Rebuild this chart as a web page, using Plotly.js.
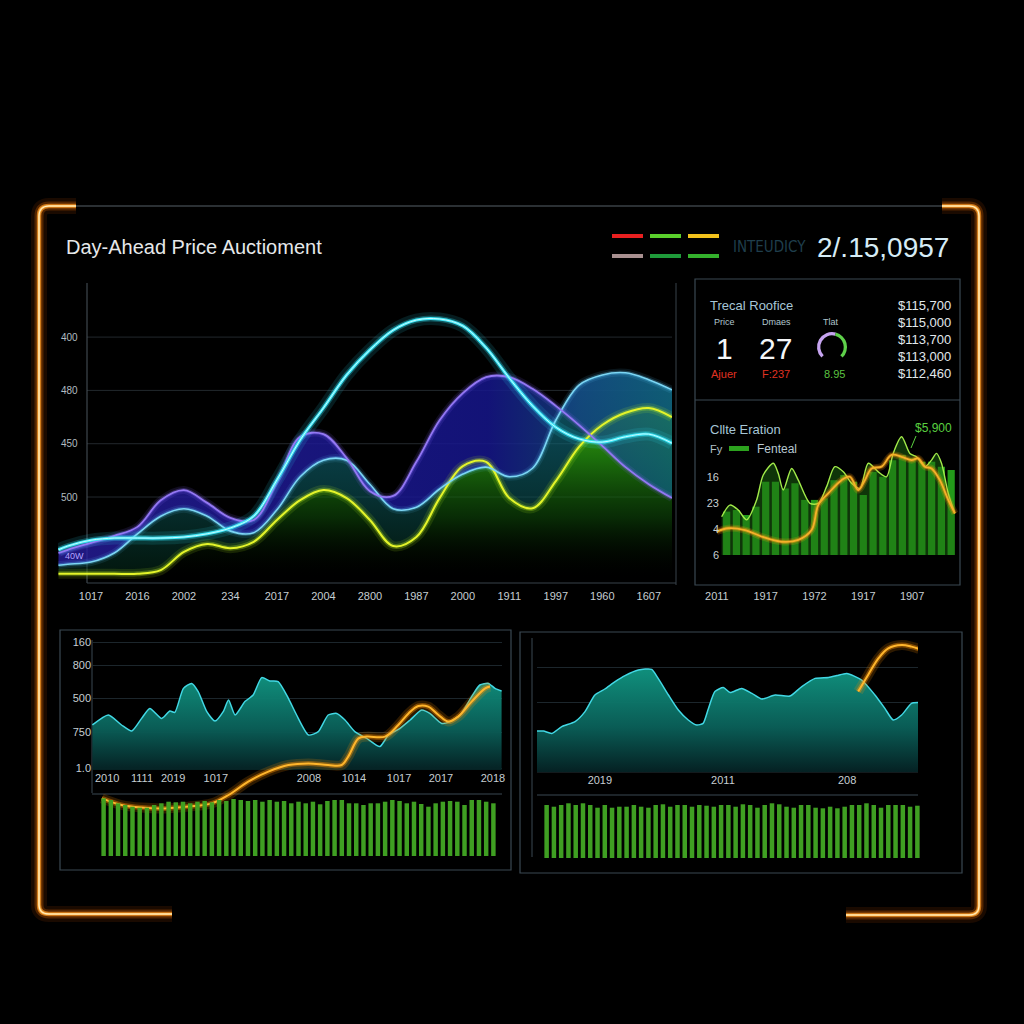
<!DOCTYPE html>
<html><head><meta charset="utf-8">
<script src="https://cdn.plot.ly/plotly-3.0.1.min.js"></script>
<style>html,body{margin:0;padding:0;background:#000;}#chart{width:1024px;height:1024px;}</style>
</head><body><div id="chart"></div>
<script>
// ================= DATA =================
// Main chart: "Day-Ahead Price Auctioment"
const mainX = [-0.7,-0.5,0,0.5,1,1.5,2,2.5,3,3.5,4,4.5,5,5.5,6,6.5,7,7.5,8,8.5,9,9.5,10,10.5,11,11.5,12,12.5];
const mainXTickVals = [0,1,2,3,4,5,6,7,8,9,10,11,12];
const mainXTickText = ["1017","2016","2002","234","2017","2004","2800","1987","2000","1911","1997","1960","1607"];
const mainYTickVals = [150,250,350,450];
const mainYTickText = ["500","450","480","400"];
const violetSeries    = [45,51,64,77,94,144,163,139,111,107,178,263,268,223,161,152,216,294,345,375,375,353,321,285,246,206,174,148];
const lightBlueSeries = [22,24,28,45,81,114,128,114,86,83,126,188,219,219,174,128,131,165,193,206,188,204,294,360,379,383,370,351];
const cyanSeries      = [51,58,69,73,73,73,75,81,92,114,182,257,317,379,426,463,482,484,471,430,373,321,281,259,253,263,268,251];
const yellowSeries    = [6,6,6,6,6,13,47,62,54,66,107,144,163,148,107,58,75,148,208,216,148,129,180,244,285,308,317,300];

// Header
const titleText = "Day-Ahead Price Auctioment";
const headerLabel = "INTEUDICY";
const headerValue = "2/.15,0957";

// KPI panel "Trecal Roofice"
const kpiTitle = "Trecal Roofice";
const kpiLabels = ["Price","Dmaes","Tlat"];
const kpiValues = ["1","27"];
const kpiDeltas = ["Ajuer","F:237","8.95"];
const priceLadder = ["$115,700","$115,000","$113,700","$113,000","$112,460"];
const gaugeShares = [90,150,120]; // gap, lavender, green

// Right-middle chart "Cllte Eration"
const rmTitle = "Cllte Eration";
const rmLegend = ["Fy","Fenteal"];
const rmCallout = "$5,900";
const rmBarX = [0,1,2,3,4,5,6,7,8,9,10,11,12,13,14,15,16,17,18,19,20,21,22,23];
const rmBars = [16.7,17.3,15.4,18.6,28.2,28.2,25.6,27.6,21.2,21.2,21.8,28.8,30.8,28.2,23.1,32.0,30.1,36.5,38.5,37.2,35.9,35.9,34.0,32.7];
const rmAreaX = [-0.51,0.34,1.19,2.05,3.07,3.75,4.78,5.29,5.80,6.66,7.34,8.53,9.39,10.24,11.09,11.95,12.80,13.65,14.51,15.53,16.38,17.06,17.92,18.77,19.45,20.31,20.99,21.50,22.01,22.70,23.38];
const rmAreaY = [14.7,19.2,17.3,13.5,21.2,30.8,35.3,31.4,25.0,33.3,28.8,19.9,19.9,26.3,34.0,32.0,27.6,25.6,35.3,32.0,30.1,39.1,45.5,39.1,37.8,34.0,36.5,39.1,35.3,23.7,16.0];
const rmTrendX = [-1.02,0.17,1.88,3.58,5.63,7.34,8.70,9.39,10.41,11.77,12.63,13.48,14.16,14.85,15.87,16.89,17.92,18.94,19.62,20.31,20.99,21.84,22.70,23.38];
const rmTrendY = [9.0,10.3,9.6,7.1,5.1,5.8,9.6,19.2,23.7,28.8,30.1,25.0,28.8,33.3,34.0,38.5,37.8,36.5,37.2,34.0,33.3,28.8,21.2,16.0];
const rmXTickVals = [-1,4,9,14,19];
const rmXTickText = ["2011","1917","1972","1917","1907"];
const rmYTickVals = [0,10,20,30];
const rmYTickText = ["6","4","23","16"];

// Bottom-left panel
const blAreaX = [0.1,4.0,7.2,9.7,12.1,14.1,17.0,19.0,20.2,22.3,24.3,25.9,28.0,30.0,32.0,33.3,34.9,37.3,39.3,41.4,43.4,45.4,47.9,49.9,52.8,55.2,57.6,59.7,61.7,64.1,67.0,70.2,72.3,75.1,77.6,80.4,82.4,85.3,87.3,89.8,92.6,94.6,96.7,98.3,99.9];
const blAreaY = [225,275,225,195,258,308,258,295,288,408,433,392,292,245,292,350,275,342,375,462,445,442,358,275,175,192,275,283,250,192,158,117,175,208,250,300,283,233,242,275,367,425,433,408,395];
const blTrendX = [2.4,7.2,12.1,17.8,23.5,29.2,33.3,38.1,43.0,47.9,52.8,57.6,60.9,62.5,65.0,67.0,71.5,74.7,77.2,79.6,82.0,84.5,86.9,89.3,92.6,95.9,97.1];
const blTrendY = [308,275,262,258,267,283,325,392,442,475,483,475,475,517,608,617,617,675,733,770,767,725,692,717,792,858,867];
const blBars = [57.7,56.0,52.7,51.0,49.3,48.3,48.3,51.0,52.7,54.3,53.7,54.3,52.7,54.3,55.0,53.7,56.0,55.0,57.0,56.0,55.0,56.0,54.3,56.0,54.3,55.0,52.7,54.3,52.7,54.3,51.7,55.0,56.0,56.0,52.7,52.7,51.0,52.7,52.7,54.3,56.0,55.0,52.7,54.3,52.0,49.3,52.7,54.3,55.0,54.3,51.0,56.0,56.0,54.3,52.7];
const blXTickVals = [3.7,12.2,19.8,30.2,52.9,63.9,74.9,85.1,97.8];
const blXTickText = ["2010","1111","2019","1017","2008","1014","1017","2017","2018"];
const blYTickVals = [10,190,360,525,640];
const blYTickText = ["1.0","750","500","800","160"];

// Bottom-right panel
const brAreaX = [0,1.7,3.9,6.5,10.0,12.6,15.2,17.8,20.5,23.1,26.6,30.1,31.8,34.5,37.1,39.7,41.9,43.6,45.0,46.7,48.9,50.7,53.7,56.4,59.0,62.5,66.4,69.5,73.0,76.5,78.7,81.3,85.2,88.7,91.3,93.5,95.7,98.3,100];
const brAreaY = [205,205,193,227,252,302,385,415,452,482,510,513,468,385,310,260,235,243,318,402,422,397,418,393,365,385,380,427,468,473,482,493,460,385,318,260,285,343,347];
const brTrendX = [84.3,86.9,89.6,92.2,95.7,98.3,100.3];
const brTrendY = [402,485,568,618,635,627,615];
const brBars = [53.0,51.3,53.0,54.7,53.0,54.7,53.0,50.3,53.0,50.3,51.3,51.3,53.0,51.3,50.3,53.0,53.7,51.3,53.0,53.0,51.3,53.0,52.3,51.3,53.0,53.0,51.3,53.7,53.0,50.3,53.0,54.7,53.7,51.3,50.3,53.0,53.0,50.3,49.7,51.3,49.7,51.3,53.0,53.0,54.7,53.0,50.3,53.0,53.0,53.0,51.3,52.3];
const brXTickVals = [16.5,48.8,81.4];
const brXTickText = ["2019","2011","208"];
const brGridVals = [350,525];

// ================= HELPERS =================
const W = 1024, H = 1024;
const FONT = "Liberation Sans, Arial, sans-serif";
const px = x => x / W;
const py = y => 1 - y / H;
const dom = (a, b) => [a / W, b / W];
const vdom = (top, bottom) => [1 - bottom / H, 1 - top / H];
const P = (x, y) => `${(x / W).toFixed(5)},${(1 - y / H).toFixed(5)}`;
const idx = arr => arr.map((_, i) => i);

function glow(x, y, color, xa, ya, widths, opac, shape) {
  return widths.map((w, i) => ({
    type: 'scatter', mode: 'lines', x, y, xaxis: xa, yaxis: ya,
    line: { color, width: w, shape: shape || 'spline', smoothing: 1 },
    opacity: opac[i], hoverinfo: 'skip', showlegend: false
  }));
}
function lineTrace(x, y, color, width, xa, ya, shape) {
  return { type: 'scatter', mode: 'lines', x, y, xaxis: xa, yaxis: ya,
    line: { color, width, shape: shape || 'spline', smoothing: 1 }, hoverinfo: 'skip', showlegend: false };
}
function seg(x0, y0, x1, y1, color, width) {
  return { type: 'line', xref: 'paper', yref: 'paper', x0: px(x0), y0: py(y0), x1: px(x1), y1: py(y1),
    line: { color, width }, layer: 'below' };
}
function box(x0, y0, x1, y1, color, width) {
  return { type: 'rect', xref: 'paper', yref: 'paper', x0: px(x0), y0: py(y0), x1: px(x1), y1: py(y1),
    line: { color, width }, fillcolor: 'rgba(0,0,0,0)', layer: 'below' };
}
function bar(x0, y0, x1, y1, color) {
  return { type: 'rect', xref: 'paper', yref: 'paper', x0: px(x0), y0: py(y0), x1: px(x1), y1: py(y1),
    line: { width: 0 }, fillcolor: color };
}
function txt(text, x, y, size, color, anchor, extra) {
  return Object.assign({ text, x: px(x), y: py(y), xref: 'paper', yref: 'paper', showarrow: false,
    xanchor: anchor || 'left', yanchor: 'middle', font: { family: FONT, size, color } }, extra || {});
}

// ================= TRACES =================
const traces = [];

// --- main chart fills
traces.push({ type: 'scatter', mode: 'lines', x: mainX, y: yellowSeries, xaxis: 'x', yaxis: 'y',
  line: { width: 0, shape: 'spline', smoothing: 1 }, fill: 'tozeroy',
  fillgradient: { type: 'vertical', start: 0, stop: 320,
    colorscale: [[0, 'rgba(0,10,0,0)'], [0.35, 'rgba(15,80,10,0.55)'], [0.7, 'rgba(35,140,15,0.8)'], [1, 'rgba(70,190,20,0.9)']] },
  hoverinfo: 'skip', showlegend: false });
traces.push({ type: 'scatter', mode: 'lines', x: mainX, y: lightBlueSeries, xaxis: 'x', yaxis: 'y',
  line: { width: 0, shape: 'spline', smoothing: 1 }, fill: 'tonexty',
  fillgradient: { type: 'vertical', start: 0, stop: 400,
    colorscale: [[0, 'rgba(5,50,30,0.45)'], [0.4, 'rgba(12,85,90,0.6)'], [1, 'rgba(20,120,150,0.75)']] },
  hoverinfo: 'skip', showlegend: false });
traces.push({ type: 'scatter', mode: 'lines', x: mainX, y: violetSeries, xaxis: 'x', yaxis: 'y',
  line: { width: 0, shape: 'spline', smoothing: 1 }, fill: 'tonexty',
  fillgradient: { type: 'horizontal', start: -0.7, stop: 12.5,
    colorscale: [[0, 'rgba(40,30,160,0.8)'], [0.7, 'rgba(22,22,140,0.85)'], [0.85, 'rgba(20,70,130,0.8)'], [1, 'rgba(15,95,120,0.8)']] },
  hoverinfo: 'skip', showlegend: false });

// --- main chart glows and lines
traces.push(...glow(mainX, yellowSeries, '#c8ff20', 'x', 'y', [10, 5], [0.12, 0.28]));
traces.push(...glow(mainX, lightBlueSeries, '#60d0ff', 'x', 'y', [8, 4], [0.1, 0.25]));
traces.push(...glow(mainX, violetSeries, '#8a6cff', 'x', 'y', [8, 4], [0.12, 0.28]));
traces.push(...glow(mainX, cyanSeries, '#30e8ff', 'x', 'y', [13, 6], [0.12, 0.28]));
traces.push(lineTrace(mainX, yellowSeries, '#e4f42a', 2, 'x', 'y'));
traces.push(lineTrace(mainX, lightBlueSeries, '#7cd6f4', 1.6, 'x', 'y'));
traces.push(lineTrace(mainX, violetSeries, '#9478f4', 1.8, 'x', 'y'));
traces.push(lineTrace(mainX, cyanSeries, '#3ee6f6', 3, 'x', 'y'));
traces.push(lineTrace(mainX, cyanSeries, '#c8fcff', 1, 'x', 'y'));

// --- right-middle chart
traces.push({ type: 'scatter', mode: 'lines', x: rmAreaX, y: rmAreaY, xaxis: 'x2', yaxis: 'y2',
  fill: 'tozeroy', fillcolor: 'rgba(30,105,18,0.5)', line: { color: '#a2ea4a', width: 1.4, shape: 'spline', smoothing: 0.8 },
  hoverinfo: 'skip', showlegend: false });
traces.push({ type: 'bar', x: rmBarX, y: rmBars, xaxis: 'x2', yaxis: 'y2', width: 0.74,
  marker: { color: '#26a81d', line: { width: 0 } }, opacity: 0.92, hoverinfo: 'skip', showlegend: false });
traces.push(...glow(rmTrendX, rmTrendY, '#ff9a10', 'x2', 'y2', [7, 4], [0.2, 0.4]));
traces.push(lineTrace(rmTrendX, rmTrendY, '#f7b02a', 1.8, 'x2', 'y2'));

// --- bottom-left
traces.push({ type: 'scatter', mode: 'lines', x: blAreaX, y: blAreaY, xaxis: 'x3', yaxis: 'y3',
  fill: 'tozeroy', fillgradient: { type: 'vertical', start: 0, stop: 460,
    colorscale: [[0, 'rgba(5,34,36,0.97)'], [0.45, 'rgba(10,95,88,0.97)'], [1, 'rgba(16,145,126,0.97)']] },
  line: { color: '#42d8e4', width: 1.5, shape: 'spline', smoothing: 0.6 }, hoverinfo: 'skip', showlegend: false });
traces.push({ type: 'bar', x: idx(blBars), y: blBars, xaxis: 'x5', yaxis: 'y5', width: 0.62,
  marker: { color: '#3f9f22', line: { width: 0 } }, hoverinfo: 'skip', showlegend: false });
traces.push(...glow(blTrendX, blTrendY, '#ff9000', 'x3', 'y4', [10, 5], [0.18, 0.4]));
traces.push(lineTrace(blTrendX, blTrendY, '#ffb62c', 2, 'x3', 'y4'));

// --- bottom-right
traces.push({ type: 'scatter', mode: 'lines', x: brAreaX, y: brAreaY, xaxis: 'x6', yaxis: 'y6',
  fill: 'tozeroy', fillgradient: { type: 'vertical', start: 0, stop: 500,
    colorscale: [[0, 'rgba(5,34,36,0.97)'], [0.45, 'rgba(10,95,88,0.97)'], [1, 'rgba(16,145,126,0.97)']] },
  line: { color: '#42d8e4', width: 1.5, shape: 'spline', smoothing: 0.6 }, hoverinfo: 'skip', showlegend: false });
traces.push({ type: 'bar', x: idx(brBars), y: brBars, xaxis: 'x7', yaxis: 'y7', width: 0.62,
  marker: { color: '#3f9f22', line: { width: 0 } }, hoverinfo: 'skip', showlegend: false });
traces.push(...glow(brTrendX, brTrendY, '#ff9000', 'x6', 'y6', [10, 5], [0.18, 0.4]));
traces.push(lineTrace(brTrendX, brTrendY, '#ffb62c', 2, 'x6', 'y6'));

// --- gauge ring
traces.push({ type: 'pie', values: gaugeShares, hole: 0.78, sort: false, direction: 'clockwise', rotation: 135,
  marker: { colors: ['rgba(0,0,0,0)', '#c6a4f0', '#5ed04a'], line: { width: 0 } },
  textinfo: 'none', hoverinfo: 'skip', showlegend: false,
  domain: { x: dom(817, 847), y: vdom(332, 362) } });

// ================= SHAPES =================
const shapes = [];
mainYTickVals.forEach(v => shapes.push({ type: 'line', xref: 'paper', yref: 'y', x0: px(87), x1: px(672), y0: v, y1: v,
  line: { color: '#22282d', width: 1 }, layer: 'below' }));
shapes.push(seg(75, 206, 944, 206, '#3a4046', 1.5));
const leftFrame = `M${P(76,206)} L${P(49,206)} Q${P(39,206)} ${P(39,216)} L${P(39,905)} Q${P(39,914)} ${P(49,914)} L${P(172,914)}`;
const rightFrame = `M${P(942,206)} L${P(969,206)} Q${P(979,206)} ${P(979,216)} L${P(979,906)} Q${P(979,915)} ${P(969,915)} L${P(846,915)}`;
[[16, 'rgba(255,100,0,0.10)'], [9, 'rgba(255,120,0,0.25)'], [4.5, 'rgba(255,150,30,0.7)'], [2.2, '#ffc060'], [1, '#fff2c8']].forEach(([w, c]) => {
  shapes.push({ type: 'path', xref: 'paper', yref: 'paper', path: leftFrame, line: { color: c, width: w } });
  shapes.push({ type: 'path', xref: 'paper', yref: 'paper', path: rightFrame, line: { color: c, width: w } });
});
shapes.push(seg(87, 283, 87, 583, '#4a545c', 1));
shapes.push(seg(87, 583, 676, 583, '#38424a', 1));
shapes.push(seg(676, 283, 676, 585, '#38424a', 1));
shapes.push(bar(612, 234, 643, 238, '#e82020'));
shapes.push(bar(650, 234, 681, 238, '#5ad02c'));
shapes.push(bar(688, 234, 719, 238, '#f2c21c'));
shapes.push(bar(612, 254, 643, 258, '#a89090'));
shapes.push(bar(650, 254, 681, 258, '#1f9a3a'));
shapes.push(bar(688, 254, 719, 258, '#34b02c'));
shapes.push(box(695, 279, 960, 585, '#3a4852', 1.2));
shapes.push(seg(695, 400, 960, 400, '#3a4852', 1.2));
shapes.push(bar(729, 446, 749, 451, '#2ca21e'));
shapes.push(seg(911, 448, 916, 436, '#5ad040', 1));
shapes.push(box(60, 630, 511, 870, '#3a4852', 1.2));
shapes.push(seg(92, 640, 92, 793, '#3a4852', 1));
shapes.push(seg(92, 794, 502, 794, '#3a4852', 1));
shapes.push(box(520, 632, 962, 873, '#3a4852', 1.2));
shapes.push(seg(532, 638, 532, 857, '#3a4852', 1));
shapes.push(seg(537, 795, 918, 795, '#3a4852', 1));
shapes.push(seg(537, 772, 918, 772, '#26343a', 1));

// ================= ANNOTATIONS =================
const ann = [];
ann.push(txt(headerLabel, 731, 247, 15, '#1f3e4c', 'left', { font: { family: 'Liberation Sans Narrow, DejaVu Sans Condensed, sans-serif', size: 15, color: '#1f3e4c' } }));
ann.push(txt(headerValue, 815, 247, 28, '#d6ecf6'));
ann.push(txt('40W', 63, 556, 9, '#b4a4ff'));
ann.push(txt(kpiTitle, 708, 305, 13, '#a6c6d6'));
ann.push(txt(kpiLabels[0], 724, 322, 9, '#b0c6ce', 'center'));
ann.push(txt(kpiLabels[1], 776, 322, 9, '#b0c6ce', 'center'));
ann.push(txt(kpiLabels[2], 831, 322, 9, '#b0c6ce', 'center'));
ann.push(txt(kpiValues[0], 724, 348, 30, '#f4f6f8', 'center'));
ann.push(txt(kpiValues[1], 775, 348, 30, '#f4f6f8', 'center'));
ann.push(txt(kpiDeltas[0], 724, 374, 11, '#e03222', 'center'));
ann.push(txt(kpiDeltas[1], 776, 374, 11, '#e03222', 'center'));
ann.push(txt(kpiDeltas[2], 834, 374, 11, '#5cc440', 'center'));
priceLadder.forEach((s, i) => ann.push(txt(s, 953, 305 + i * 17, 13, '#e2e8ec', 'right')));
ann.push(txt(rmTitle, 708, 429, 13, '#a6c6d6'));
ann.push(txt(rmLegend[0], 708, 449, 11, '#b0c0c8'));
ann.push(txt(rmLegend[1], 755, 449, 12, '#b8c8d0'));
ann.push(txt(rmCallout, 933, 428, 12, '#5ad040', 'center'));

// ================= LAYOUT =================
const tickFont = { family: FONT, size: 11, color: '#c6ced2' };
const noAxis = { visible: false, fixedrange: true };
const layout = {
  width: W, height: H, margin: { l: 0, r: 0, t: 0, b: 0 },
  paper_bgcolor: '#000', plot_bgcolor: 'rgba(0,0,0,0)', showlegend: false,
  font: { family: FONT, color: '#c6ced2' },
  title: { text: titleText, x: px(66), xanchor: 'left', xref: 'paper', y: py(247), yanchor: 'middle', yref: 'paper',
    font: { family: FONT, size: 20, color: '#e6e8ea' } },
  bargap: 0.3,
  xaxis: { domain: dom(58, 672), range: [-0.71, 12.5], tickvals: mainXTickVals, ticktext: mainXTickText, ticks: '',
    showgrid: false, zeroline: false, showline: false, tickfont: tickFont, ticklabelstandoff: 5, anchor: 'y' },
  yaxis: { domain: vdom(283, 583), range: [-11.3, 551.5], tickvals: mainYTickVals, ticktext: mainYTickText, ticks: '',
    ticklabelposition: 'inside', showgrid: false, zeroline: false, showline: false,
    tickfont: { family: FONT, size: 10, color: '#b2bcc0' }, anchor: 'x' },
  xaxis2: { domain: dom(704, 958), range: [-2.32, 23.7], tickvals: rmXTickVals, ticktext: rmXTickText, ticks: '',
    showgrid: false, zeroline: false, showline: false, tickfont: tickFont, anchor: 'y2', ticklabeloverflow: 'allow' },
  yaxis2: { domain: vdom(430, 588), range: [-12.7, 48.1], tickvals: rmYTickVals, ticktext: rmYTickText, ticks: '',
    ticklabelstandoff: -16, showgrid: false, zeroline: false, showline: false, tickfont: tickFont, anchor: 'x2' },
  xaxis3: { domain: dom(92, 502), range: [0, 100], tickvals: blXTickVals, ticktext: blXTickText, ticks: '',
    showgrid: false, zeroline: false, showline: false, tickfont: tickFont, anchor: 'y3' },
  yaxis3: { domain: vdom(636, 770), range: [0, 670], tickvals: blYTickVals, ticktext: blYTickText, ticks: '',
    showgrid: true, gridcolor: '#1c262c', zeroline: false, showline: false, tickfont: tickFont, anchor: 'x3' },
  yaxis4: Object.assign({ domain: vdom(636, 860), range: [0, 1120], anchor: 'x3' }, noAxis),
  xaxis5: Object.assign({ domain: dom(100, 497), range: [-0.5, 54.5], anchor: 'y5' }, noAxis),
  yaxis5: Object.assign({ domain: vdom(796, 856), range: [0, 60], anchor: 'x5' }, noAxis),
  xaxis6: { domain: dom(537, 918), range: [0, 100], tickvals: brXTickVals, ticktext: brXTickText, ticks: '',
    showgrid: false, zeroline: false, showline: false, tickfont: tickFont, anchor: 'y6' },
  yaxis6: { domain: vdom(638, 772), range: [0, 670], tickvals: brGridVals, showticklabels: false, ticks: '',
    showgrid: true, gridcolor: '#1c262c', zeroline: false, showline: false, anchor: 'x6' },
  xaxis7: Object.assign({ domain: dom(543, 921), range: [-0.5, 51.5], anchor: 'y7' }, noAxis),
  yaxis7: Object.assign({ domain: vdom(798, 858), range: [0, 60], anchor: 'x7' }, noAxis),
  shapes, annotations: ann
};

Plotly.newPlot('chart', traces, layout, { displayModeBar: false, staticPlot: true });
</script>
</body></html>
